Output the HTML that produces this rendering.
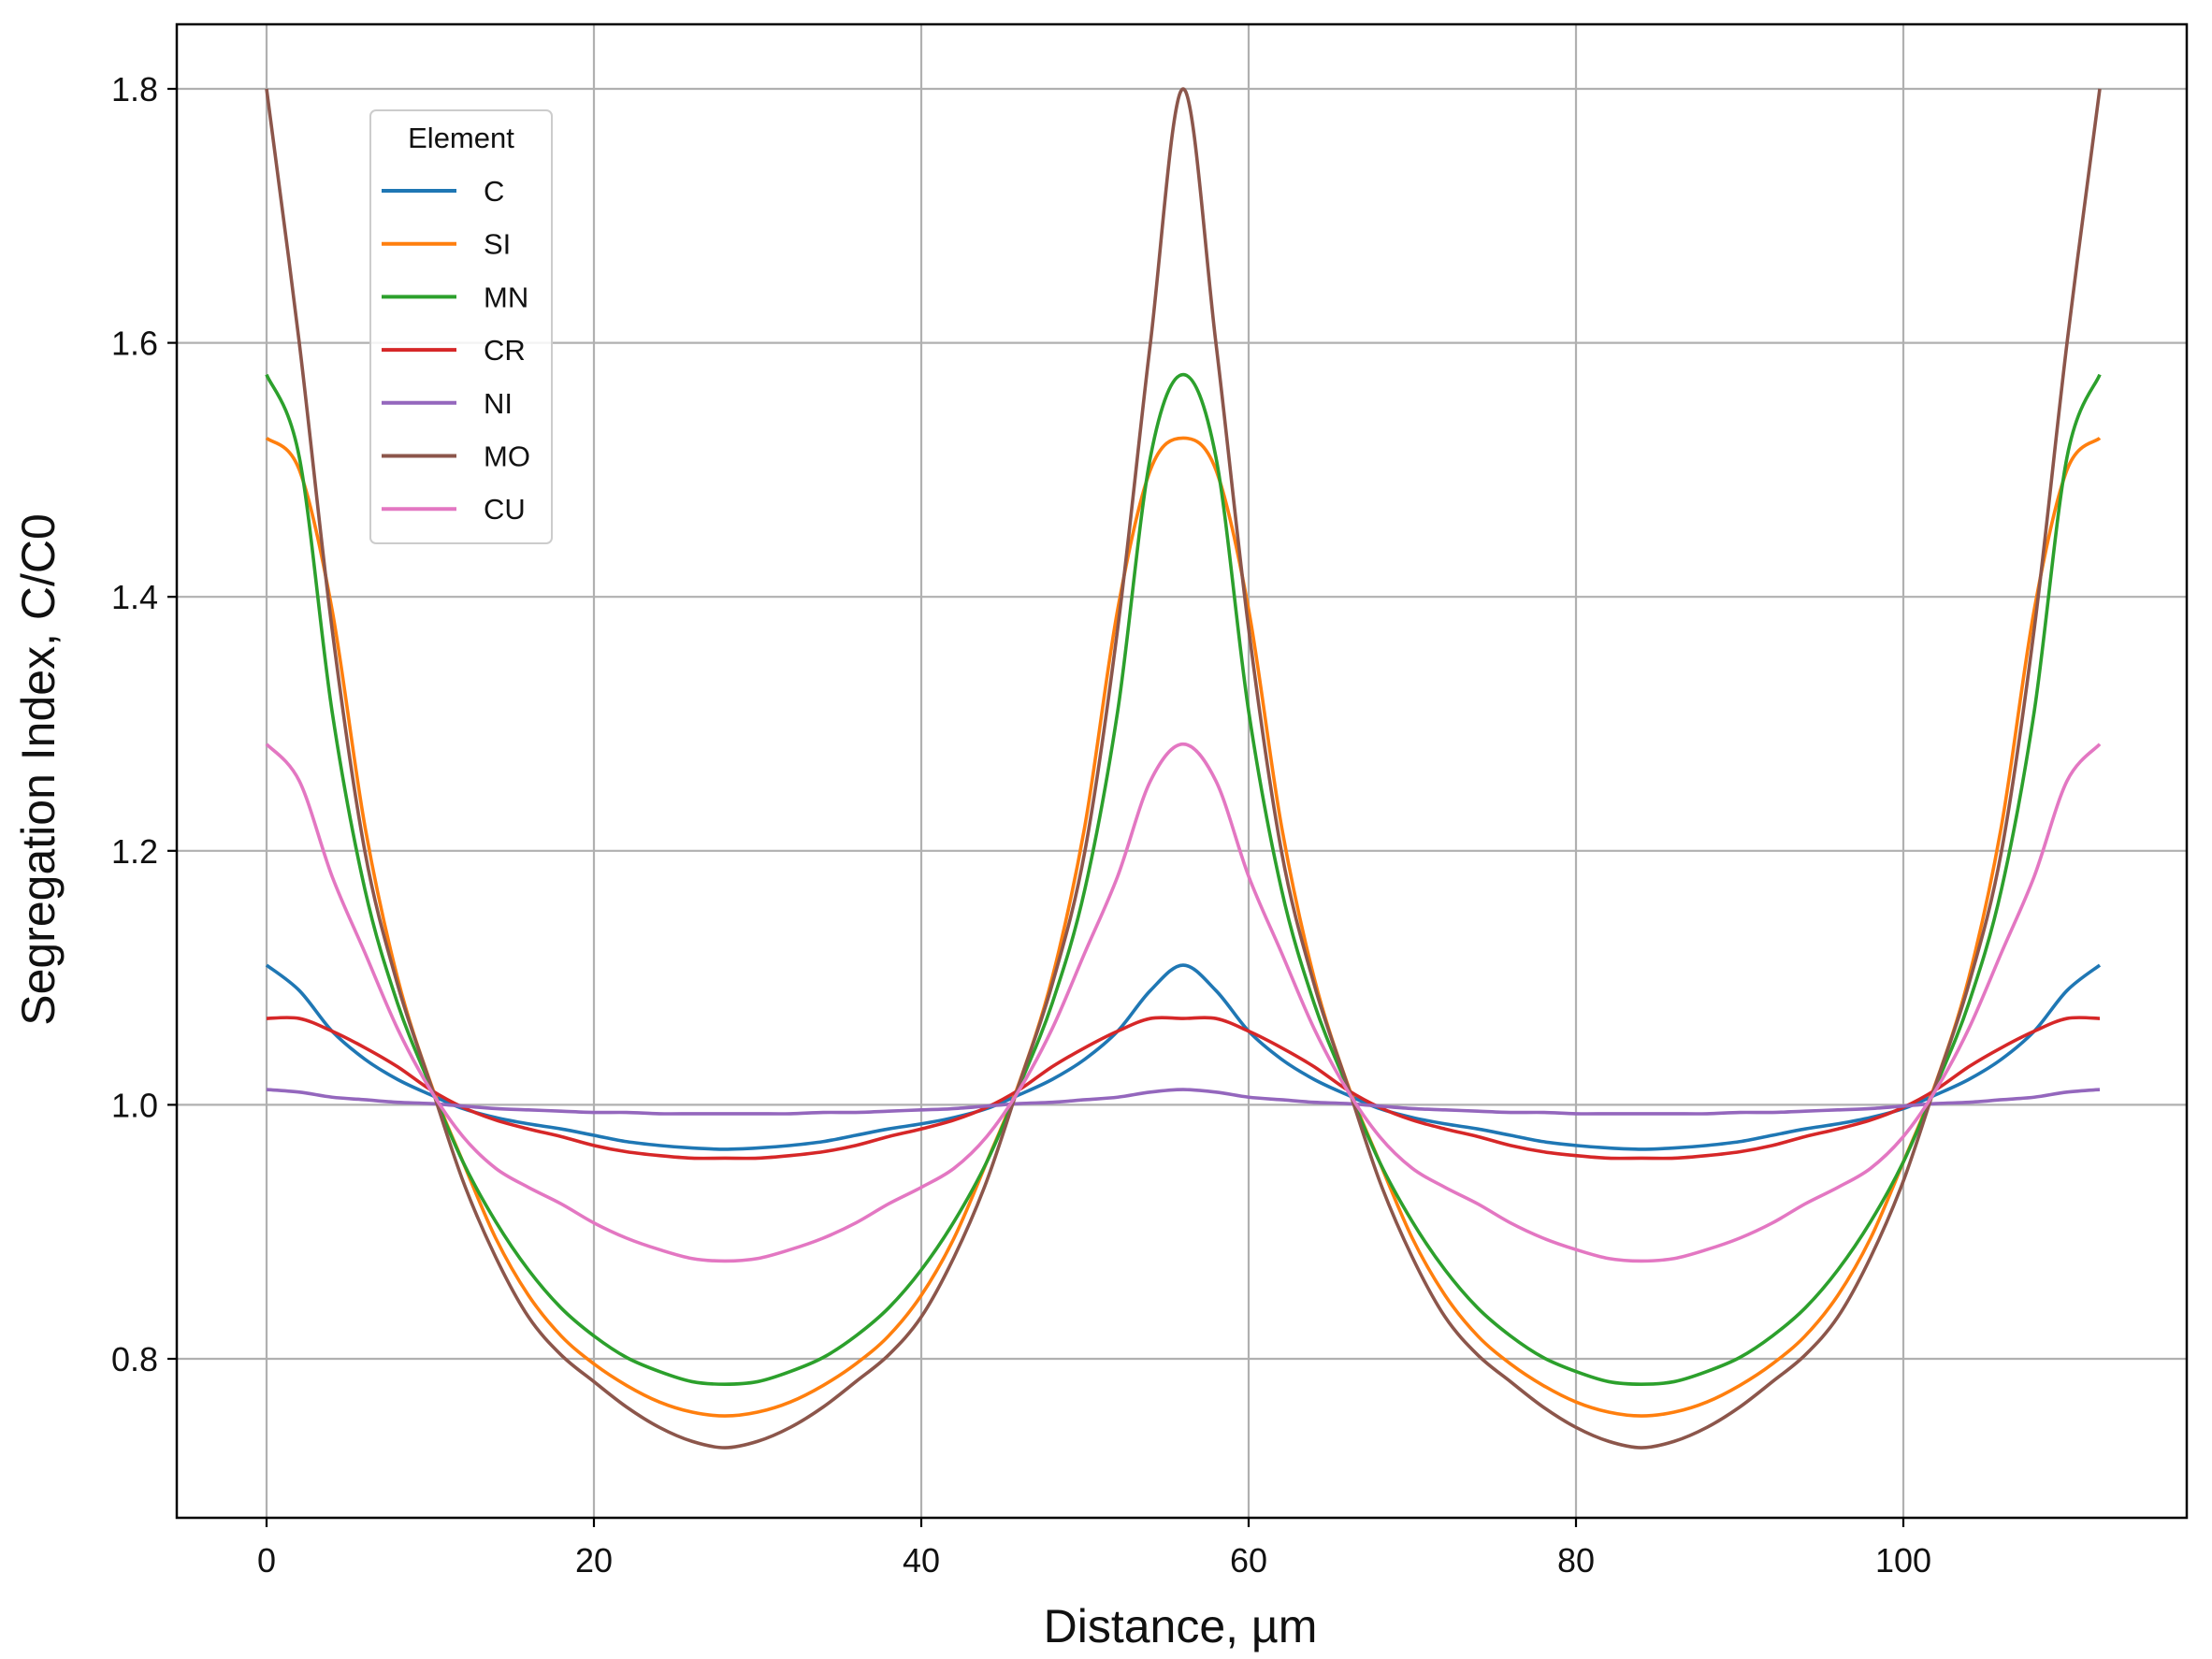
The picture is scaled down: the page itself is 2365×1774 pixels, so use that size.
<!DOCTYPE html>
<html><head><meta charset="utf-8"><style>
html,body{margin:0;padding:0;background:#fff;}
svg{display:block;}
text{font-family:"Liberation Sans","DejaVu Sans",sans-serif;}
</style></head><body>
<svg id="chart" width="2365" height="1774" viewBox="0 0 2365 1774" xmlns="http://www.w3.org/2000/svg">
<g id="grid"></g>
<g id="series"></g>
<rect x="189" y="26" width="2149" height="1597" fill="none" stroke="#000" stroke-width="2.5"/>
<g id="ticks"></g>
<text x="1262" y="1756" font-size="50" text-anchor="middle" fill="#111">Distance, µm</text>
<text transform="translate(58,823) rotate(-90)" font-size="50" text-anchor="middle" fill="#111">Segregation Index, C/C0</text>
<g id="legend"></g>
</svg>
<script>
const xTicks=[0,20,40,60,80,100];
const yTicks=[0.8,1.0,1.2,1.4,1.6,1.8];
const yTickLabels=["0.8","1.0","1.2","1.4","1.6","1.8"];
const xs=[0,2,4,6,8,10,12,14,16,18,20,22,24,26,28,30,32,34,36,38,40,42,44,46,48,50,52,54,56,58,60,62,64,66,68,70,72,74,76,78,80,82,84,86,88,90,92,94,96,98,100,102,104,106,108,110,112];
const seriesNames=["C","SI","MN","CR","NI","MO","CU"];
const seriesColors=["#1f77b4","#ff7f0e","#2ca02c","#d62728","#9467bd","#8c564b","#e377c2"];
const C=[1.11,1.09,1.058,1.036,1.02,1.008,0.997,0.99,0.985,0.981,0.976,0.971,0.968,0.966,0.965,0.966,0.968,0.971,0.976,0.981,0.985,0.99,0.997,1.008,1.02,1.036,1.058,1.09,1.11,1.09,1.058,1.036,1.02,1.008,0.997,0.99,0.985,0.981,0.976,0.971,0.968,0.966,0.965,0.966,0.968,0.971,0.976,0.981,0.985,0.99,0.997,1.008,1.02,1.036,1.058,1.09,1.11];
const SI=[1.525,1.5,1.39,1.22,1.1,1.018,0.955,0.895,0.85,0.818,0.796,0.779,0.766,0.758,0.755,0.758,0.766,0.779,0.796,0.818,0.85,0.895,0.955,1.018,1.1,1.22,1.39,1.5,1.525,1.5,1.39,1.22,1.1,1.018,0.955,0.895,0.85,0.818,0.796,0.779,0.766,0.758,0.755,0.758,0.766,0.779,0.796,0.818,0.85,0.895,0.955,1.018,1.1,1.22,1.39,1.5,1.525];
const MN=[1.575,1.51,1.31,1.17,1.08,1.015,0.955,0.908,0.87,0.84,0.818,0.801,0.79,0.782,0.78,0.782,0.79,0.801,0.818,0.84,0.87,0.908,0.955,1.015,1.08,1.17,1.31,1.51,1.575,1.51,1.31,1.17,1.08,1.015,0.955,0.908,0.87,0.84,0.818,0.801,0.79,0.782,0.78,0.782,0.79,0.801,0.818,0.84,0.87,0.908,0.955,1.015,1.08,1.17,1.31,1.51,1.575];
const CR=[1.068,1.068,1.058,1.045,1.03,1.012,0.998,0.988,0.981,0.975,0.968,0.963,0.96,0.958,0.958,0.958,0.96,0.963,0.968,0.975,0.981,0.988,0.998,1.012,1.03,1.045,1.058,1.068,1.068,1.068,1.058,1.045,1.03,1.012,0.998,0.988,0.981,0.975,0.968,0.963,0.96,0.958,0.958,0.958,0.96,0.963,0.968,0.975,0.981,0.988,0.998,1.012,1.03,1.045,1.058,1.068,1.068];
const NI=[1.012,1.01,1.006,1.004,1.002,1.001,0.999,0.997,0.996,0.995,0.994,0.994,0.993,0.993,0.993,0.993,0.993,0.994,0.994,0.995,0.996,0.997,0.999,1.001,1.002,1.004,1.006,1.01,1.012,1.01,1.006,1.004,1.002,1.001,0.999,0.997,0.996,0.995,0.994,0.994,0.993,0.993,0.993,0.993,0.993,0.994,0.994,0.995,0.996,0.997,0.999,1.001,1.002,1.004,1.006,1.01,1.012];
const MO=[1.8,1.6,1.375,1.2,1.095,1.017,0.94,0.88,0.833,0.803,0.782,0.762,0.746,0.735,0.73,0.735,0.746,0.762,0.782,0.803,0.833,0.88,0.94,1.017,1.095,1.2,1.375,1.6,1.8,1.6,1.375,1.2,1.095,1.017,0.94,0.88,0.833,0.803,0.782,0.762,0.746,0.735,0.73,0.735,0.746,0.762,0.782,0.803,0.833,0.88,0.94,1.017,1.095,1.2,1.375,1.6,1.8];
const CU=[1.284,1.255,1.18,1.12,1.06,1.012,0.975,0.95,0.935,0.922,0.907,0.895,0.886,0.879,0.877,0.879,0.886,0.895,0.907,0.922,0.935,0.95,0.975,1.012,1.06,1.12,1.18,1.255,1.284,1.255,1.18,1.12,1.06,1.012,0.975,0.95,0.935,0.922,0.907,0.895,0.886,0.879,0.877,0.879,0.886,0.895,0.907,0.922,0.935,0.95,0.975,1.012,1.06,1.12,1.18,1.255,1.284];
const seriesData=[C,SI,MN,CR,NI,MO,CU];

const NS="http://www.w3.org/2000/svg";
const L=189,R=2338,T=26,B=1623;
function sx(v){return 285+(v-0)*(2035-285)/100;}
function sy(v){return 1453-(v-0.8)*(1453-95)/1.0;}
function mk(tag,attrs,parent){const e=document.createElementNS(NS,tag);for(const k in attrs)e.setAttribute(k,attrs[k]);parent.appendChild(e);return e;}
const grid=document.getElementById('grid'),ticks=document.getElementById('ticks');
xTicks.forEach((t,i)=>{
  const g=mk('line',{x1:sx(t),x2:sx(t),y1:T,y2:B,stroke:'#b0b0b0','stroke-width':2.2},grid);
  
  
  const tk=mk('line',{x1:sx(t),x2:sx(t),y1:B,y2:B+10,stroke:'#000','stroke-width':2.2},ticks);
  
  
  const tx=mk('text',{x:sx(t),y:B+58,'font-size':36,'text-anchor':'middle',fill:'#111'},ticks);
  tx.textContent=String(t);
  
  
});
yTicks.forEach((t,i)=>{
  const g=mk('line',{x1:L,x2:R,y1:sy(t),y2:sy(t),stroke:'#b0b0b0','stroke-width':2.2},grid);
  
  
  const tk=mk('line',{x1:L-10,x2:L,y1:sy(t),y2:sy(t),stroke:'#000','stroke-width':2.2},ticks);
  
  
  const tx=mk('text',{x:L-20,y:sy(t)+13,'font-size':36,'text-anchor':'end',fill:'#111'},ticks);
  tx.textContent=yTickLabels[i];
  
  
});
function smoothPath(px,py){
  let d='M'+px[0]+','+py[0];
  for(let i=0;i<px.length-1;i++){
    const x0=px[Math.max(i-1,0)],y0=py[Math.max(i-1,0)],x1=px[i],y1=py[i],x2=px[i+1],y2=py[i+1],x3=px[Math.min(i+2,px.length-1)],y3=py[Math.min(i+2,px.length-1)];
    const c1x=x1+(x2-x0)/6,c1y=y1+(y2-y0)/6,c2x=x2-(x3-x1)/6,c2y=y2-(y3-y1)/6;
    d+=' C'+c1x+','+c1y+' '+c2x+','+c2y+' '+x2+','+y2;
  }
  return d;
}
const sg=document.getElementById('series');
seriesData.forEach((arr,i)=>{
  const p=mk('path',{d:smoothPath(xs.map(sx),arr.map(sy)),fill:'none',stroke:seriesColors[i],'stroke-width':3.6,'stroke-linejoin':'round'},sg);
  
  
});
const lg=document.getElementById('legend');
const box=mk('rect',{x:396,y:118,width:194,height:463,rx:6,fill:'#fff','fill-opacity':0.85,stroke:'#ccc','stroke-width':2},lg);


const lt=mk('text',{x:493,y:158,'font-size':31,'text-anchor':'middle',fill:'#111'},lg);
lt.textContent='Element';


seriesNames.forEach((n,i)=>{
  const y=204+i*56.7;
  const ln=mk('line',{x1:408,x2:488,y1:y,y2:y,stroke:seriesColors[i],'stroke-width':4},lg);
  
  
  const t=mk('text',{x:517,y:y+11,'font-size':31,fill:'#111'},lg);
  t.textContent=n;
  
  
});
</script>
</body></html>
